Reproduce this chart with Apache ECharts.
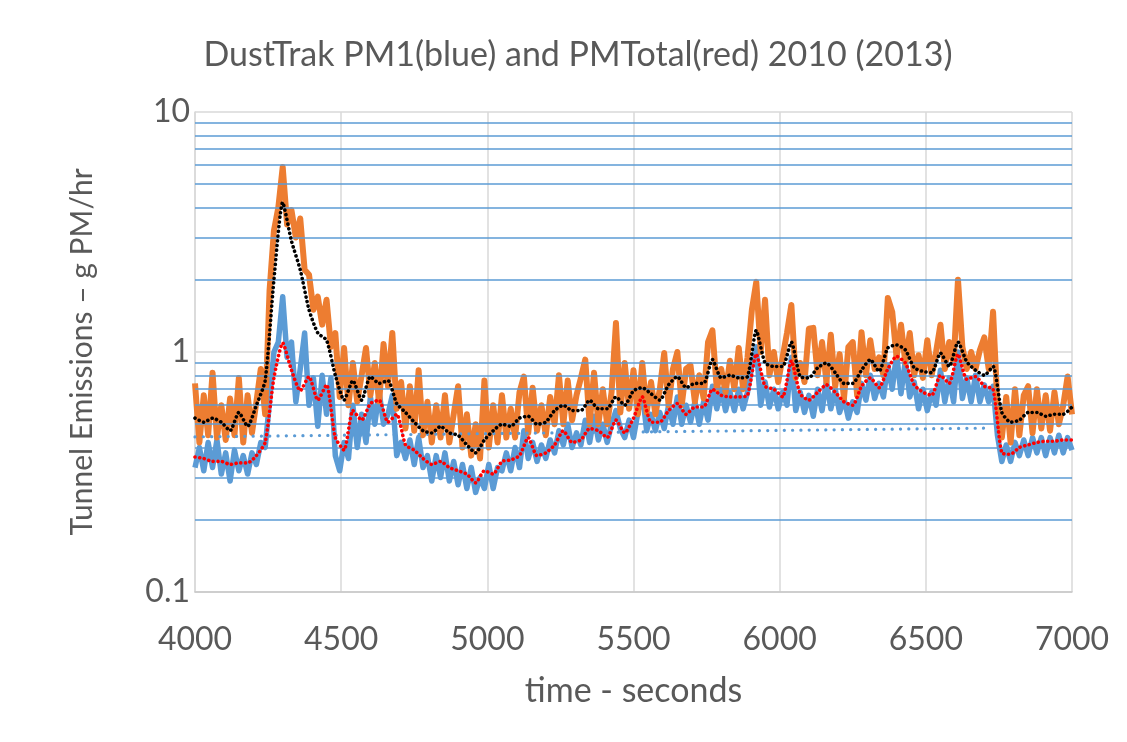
<!DOCTYPE html>
<html>
<head>
<meta charset="utf-8">
<script src="https://cdn.jsdelivr.net/npm/echarts@6/dist/echarts.min.js"></script>
<style>
  html, body { margin: 0; padding: 0; background: #fff; }
  #chart { width: 1127px; height: 742px; }
</style>
</head>
<body>
<div id="chart"></div>
<script>
// sampling: raw traces every 15 s, running averages every 30 s, from 4000 s
const rawStart = 4000, rawStep = 15
const avgStart = 4000, avgStep = 30

// PMTotal raw trace (orange), g PM/hr
const pmTotal = [
  0.74, 0.42, 0.66, 0.45, 0.82, 0.44, 0.6, 0.43, 0.64, 0.45,
  0.78, 0.42, 0.66, 0.46, 0.62, 0.85, 0.55, 1.8, 3.2, 4.0,
  5.9, 3.4, 3.9, 3.0, 3.6, 2.2, 2.1, 1.5, 1.7, 1.3,
  1.65, 1.05, 1.2, 0.65, 1.04, 0.6, 0.9, 0.62, 0.8, 1.04,
  0.66, 0.9, 0.62, 1.08, 0.72, 1.2, 0.58, 0.75, 0.48, 0.72,
  0.47, 0.84, 0.45, 0.62, 0.42, 0.6, 0.44, 0.66, 0.42, 0.55,
  0.72, 0.4, 0.55, 0.37, 0.5, 0.36, 0.76, 0.4, 0.6, 0.42,
  0.66, 0.44, 0.58, 0.44, 0.68, 0.79, 0.46, 0.71, 0.47, 0.6,
  0.45, 0.65, 0.5, 0.8, 0.5, 0.76, 0.52, 0.66, 0.78, 0.93,
  0.5, 0.82, 0.5, 0.7, 0.5, 0.68, 1.32, 0.56, 0.9, 0.58,
  0.84, 0.55, 0.9, 0.56, 0.75, 0.55, 0.7, 0.99, 0.6, 0.85,
  1.0, 0.6, 0.85, 0.88, 0.62, 0.8, 0.64, 1.1, 1.23, 0.7,
  0.85, 0.68, 0.92, 0.7, 1.04, 0.7, 0.95, 1.5, 1.96, 1.0,
  1.65, 0.8, 1.0, 0.75, 0.95, 1.2, 1.57, 0.78, 0.9, 0.75,
  1.25, 1.26, 0.8, 1.1, 0.75, 1.18, 0.72, 0.98, 0.64, 1.05,
  1.1, 0.66, 1.21, 0.8, 1.12, 0.85, 0.95, 0.8, 1.68, 1.47,
  0.95, 1.3, 0.9, 1.2, 0.8, 0.97, 0.78, 1.12, 0.8, 1.0,
  1.3, 0.85, 1.1, 0.9, 2.0, 1.05, 0.85, 1.0, 0.85, 1.02,
  1.15, 0.85, 1.47, 0.6, 0.44, 0.65, 0.42, 0.7, 0.45, 0.66,
  0.72, 0.46, 0.7, 0.48, 0.66, 0.47, 0.68, 0.5, 0.6, 0.79,
  0.55
]

// PM1 raw trace (blue)
const pm1 = [
  0.33, 0.40, 0.32, 0.42, 0.33, 0.43, 0.31, 0.38, 0.29, 0.39,
  0.32, 0.37, 0.31, 0.38, 0.34, 0.42, 0.40, 0.62, 1.0, 1.1,
  1.7, 0.95, 1.1, 0.62, 0.85, 1.2, 0.6, 0.78, 0.49, 0.8,
  0.55, 0.78, 0.37, 0.32, 0.42, 0.36, 0.6, 0.40, 0.55, 0.42,
  0.65, 0.5, 0.68, 0.5, 0.55, 0.66, 0.37, 0.42, 0.36, 0.43,
  0.34, 0.44, 0.33, 0.37, 0.29, 0.37, 0.3, 0.38, 0.29, 0.35,
  0.28, 0.34, 0.27, 0.33, 0.26, 0.3, 0.27, 0.34, 0.27, 0.33,
  0.32, 0.38, 0.32, 0.4, 0.33, 0.47, 0.36, 0.42, 0.35, 0.41,
  0.36, 0.43, 0.38, 0.47, 0.41, 0.5, 0.4, 0.46, 0.41, 0.52,
  0.42, 0.54, 0.43, 0.5, 0.42, 0.5, 0.57, 0.48, 0.44, 0.52,
  0.44, 0.56, 0.68, 0.47, 0.55, 0.47, 0.56, 0.48, 0.6, 0.5,
  0.65, 0.5, 0.6, 0.51, 0.62, 0.5, 0.62, 0.52, 0.72, 0.58,
  0.7, 0.57, 0.68, 0.57, 0.7, 0.58, 0.68, 0.88, 1.05, 0.6,
  0.75, 0.59, 0.7, 0.58, 0.68, 0.6, 0.95, 0.57, 0.68, 0.56,
  0.66, 0.54, 0.7, 0.57, 0.76, 0.58, 0.7, 0.56, 0.64, 0.53,
  0.62, 0.56, 0.74, 0.63, 0.8, 0.64, 0.74, 0.65, 0.88, 0.7,
  0.98, 0.67, 0.92, 0.65, 0.75, 0.58, 0.7, 0.57, 0.68, 0.6,
  0.84, 0.62, 0.78, 0.62, 1.0, 0.64, 0.78, 0.62, 0.8, 0.62,
  0.73, 0.62, 0.72, 0.45, 0.35, 0.41, 0.35, 0.42, 0.37, 0.43,
  0.37, 0.44, 0.38, 0.44, 0.37, 0.44, 0.38, 0.45, 0.38, 0.44,
  0.39
]

// running average of PMTotal (black dots)
const pmTotalAvg = [
  0.53, 0.51, 0.53, 0.51, 0.47, 0.56, 0.49, 0.60, 0.76, 2.0,
  4.2, 2.9, 2.2, 1.5, 1.2, 1.12, 0.8, 0.63, 0.76, 0.63,
  0.79, 0.74, 0.76, 0.61, 0.56, 0.51, 0.47, 0.46, 0.49, 0.46,
  0.45, 0.41, 0.38, 0.43, 0.47, 0.50, 0.49, 0.53, 0.54, 0.50,
  0.51, 0.57, 0.60, 0.57, 0.57, 0.63, 0.58, 0.58, 0.65, 0.60,
  0.69, 0.71, 0.67, 0.63, 0.73, 0.79, 0.71, 0.74, 0.74, 0.93,
  0.78, 0.80, 0.78, 0.79, 1.23, 0.90, 0.87, 0.87, 1.1, 0.79,
  0.78, 0.86, 0.9, 0.82, 0.74, 0.74, 0.84, 0.93, 0.83, 1.04,
  1.07, 1.02, 0.86, 0.83, 0.82, 0.99, 0.87, 1.1, 0.91, 0.84,
  0.8, 0.87, 0.56, 0.51, 0.52, 0.56, 0.56, 0.54, 0.55, 0.55,
  0.59
]

// running average of PM1 (red dots)
const pm1Avg = [
  0.365, 0.36, 0.35, 0.35, 0.34, 0.345, 0.345, 0.37, 0.42, 0.78,
  1.09, 0.84, 0.69, 0.79, 0.63, 0.73, 0.44, 0.39, 0.57, 0.52,
  0.61, 0.63, 0.51, 0.55, 0.41, 0.39, 0.36, 0.34, 0.35, 0.33,
  0.32, 0.31, 0.285, 0.32, 0.31, 0.35, 0.355, 0.37, 0.44, 0.37,
  0.38, 0.41, 0.47, 0.42, 0.43, 0.48, 0.47, 0.44, 0.52, 0.46,
  0.53, 0.65, 0.51, 0.51, 0.57, 0.61, 0.55, 0.59, 0.59, 0.70,
  0.66, 0.65, 0.65, 0.66, 0.98, 0.72, 0.70, 0.65, 0.92, 0.67,
  0.63, 0.68, 0.73, 0.68, 0.62, 0.60, 0.72, 0.78, 0.71, 0.85,
  0.96, 0.90, 0.73, 0.68, 0.66, 0.80, 0.74, 0.98, 0.77, 0.79,
  0.72, 0.70, 0.38, 0.375, 0.40, 0.41, 0.42, 0.425, 0.425, 0.43,
  0.43
]

// PM1 trend line (blue dotted), [time, value]
const pm1Trend = [[4000, 0.443], [6720, 0.482]]

// minor gridlines on the log axis
const minorLevels = [0.2, 0.3, 0.4, 0.5, 0.6, 0.7, 0.8, 0.9, 2, 3, 4, 5, 6, 7, 8, 9]

const withTime = (arr, start, step) => arr.map((v, i) => [start + i * step, v])

const FONT = 'Lato, "Open Sans", sans-serif'
const TEXT = '#595959'
const chart = echarts.init(document.getElementById('chart'))

chart.setOption({
  animation: false,
  backgroundColor: '#fff',
  title: {
    text: 'DustTrak PM1(blue) and PMTotal(red) 2010 (2013)',
    left: 573,
    top: 33,
    textAlign: 'center',
    textStyle: { fontFamily: FONT, fontSize: 34, fontWeight: 'normal', color: TEXT }
  },
  grid: { left: 195, right: 55, top: 112, bottom: 150 },
  xAxis: {
    type: 'value',
    min: 4000,
    max: 7000,
    interval: 500,
    name: 'time - seconds',
    nameLocation: 'middle',
    nameGap: 82,
    nameTextStyle: { fontFamily: FONT, fontSize: 34, color: TEXT },
    axisLine: { lineStyle: { color: '#c8c8c8', width: 1.5 } },
    axisTick: { show: false },
    axisLabel: { fontFamily: FONT, fontSize: 32, color: TEXT, margin: 32, formatter: v => String(v) },
    splitLine: { show: true, lineStyle: { color: '#d9d9d9', width: 1.5 } }
  },
  yAxis: {
    type: 'log',
    logBase: 10,
    min: 0.1,
    max: 10,
    name: 'Tunnel Emissions \u2013 g PM/hr',
    nameLocation: 'middle',
    nameGap: 98,
    nameTextStyle: { fontFamily: FONT, fontSize: 30, color: TEXT },
    axisLine: { show: true, lineStyle: { color: '#d9d9d9', width: 1.5 } },
    axisTick: { show: false },
    axisLabel: { fontFamily: FONT, fontSize: 32, color: TEXT, margin: 5 },
    splitLine: { show: true, lineStyle: { color: '#d9d9d9', width: 1.5 } }
  },
  series: [
    {
      // carrier for the blue minor gridlines
      type: 'line',
      data: [],
      z: 1,
      silent: true,
      markLine: {
        silent: true,
        symbol: 'none',
        animation: false,
        label: { show: false },
        lineStyle: { color: '#5b9bd5', width: 1.6, type: 'solid' },
        data: minorLevels.map(v => ({ yAxis: v }))
      }
    },
    {
      name: 'PM1',
      type: 'line',
      data: withTime(pm1, rawStart, rawStep),
      showSymbol: false,
      z: 2,
      lineStyle: { color: '#5b9bd5', width: 5.5, join: 'round' }
    },
    {
      name: 'PMTotal',
      type: 'line',
      data: withTime(pmTotal, rawStart, rawStep),
      showSymbol: false,
      z: 3,
      lineStyle: { color: '#ed7d31', width: 6, join: 'round' }
    },
    {
      name: 'PM1 trend',
      type: 'line',
      data: pm1Trend,
      showSymbol: false,
      z: 4,
      lineStyle: { color: '#5b9bd5', width: 3.2, type: [0.1, 8.2], cap: 'round' }
    },
    {
      name: 'PM1 avg',
      type: 'line',
      data: withTime(pm1Avg, avgStart, avgStep),
      showSymbol: false,
      smooth: 0.2,
      z: 5,
      lineStyle: { color: '#ff0000', width: 3.6, type: [0.1, 4.6], cap: 'round' }
    },
    {
      name: 'PMTotal avg',
      type: 'line',
      data: withTime(pmTotalAvg, avgStart, avgStep),
      showSymbol: false,
      smooth: 0.2,
      z: 6,
      lineStyle: { color: '#000000', width: 3.6, type: [0.1, 4.6], cap: 'round' }
    }
  ]
})
</script>
</body>
</html>
